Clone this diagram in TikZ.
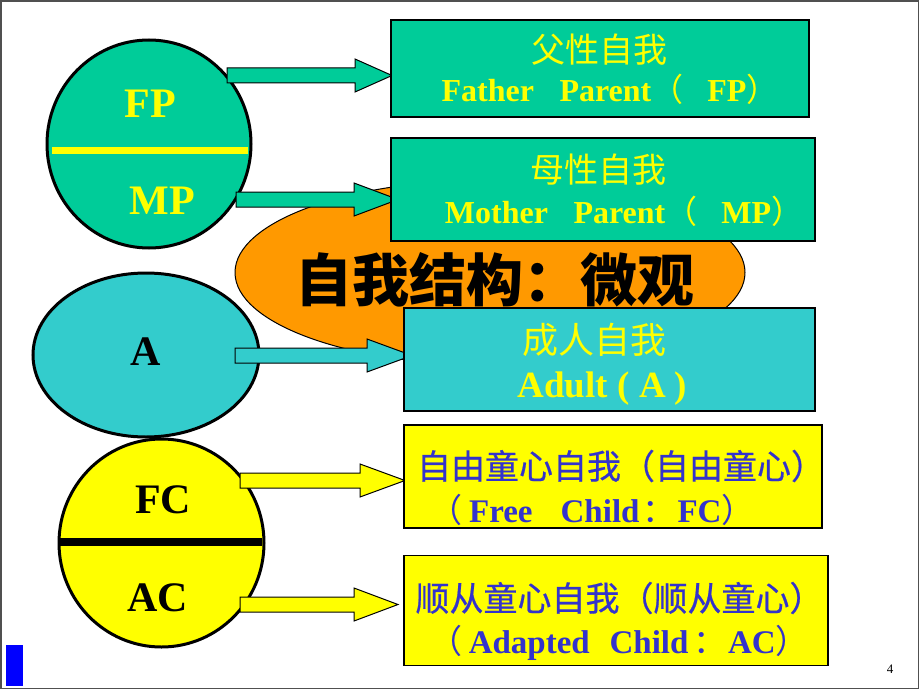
\documentclass[tikz,border=0pt]{standalone}
\usepackage{fontspec}
\setmainfont{Liberation Serif}
\newfontfamily\cjk{Noto Sans CJK SC}
\newfontfamily\cjkm[FakeBold=0.6]{Noto Sans CJK SC}
\usetikzlibrary{shapes.geometric}
\definecolor{pgreen}{HTML}{00CC99}
\definecolor{pcyan}{HTML}{33CCCC}
\definecolor{pyellow}{HTML}{FFFF00}
\definecolor{porange}{HTML}{FF9900}
\definecolor{pblue}{HTML}{3333CC}
\definecolor{pframe}{HTML}{505050}
\newcommand\fsz[1]{\fontsize{#1}{#1}\selectfont}
\newcommand\zp[1]{{\cjk\mdseries #1}}
\newcommand\blockarrow[5]{%
  \draw[arrowshape, fill=#5] (#1,#4-7.5) -- (#3,#4-7.5) -- (#3,#4-16.5) -- (#2,#4)
     -- (#3,#4+16.5) -- (#3,#4+7.5) -- (#1,#4+7.5) -- cycle;}
\tikzset{
  egocirc/.style={ellipse, draw=black, line width=3pt, inner sep=0pt},
  egobox/.style={rectangle, draw=black, line width=1.2pt, inner sep=0pt},
  arrowshape/.style={draw=black, line width=1pt, line join=miter},
  circtext/.style={font=\fsz{42}\bfseries, inner sep=0pt},
  zhline/.style={font=\cjk\fsz{34}, inner sep=0pt},
  zhblue/.style={font=\cjkm\fsz{34}, inner sep=0pt, text=pblue},
  enline/.style={font=\fsz{32}\bfseries, inner sep=0pt, anchor=base},
  enblue/.style={font=\fsz{33}\bfseries, inner sep=0pt, anchor=base, text=pblue},
}
\begin{document}
\begin{tikzpicture}[x=1pt, y=-1pt]
\useasboundingbox (0,0) rectangle (920,690);
\fill[white] (0,0) rectangle (920,690);
\draw[pframe, line width=1.6pt] (0.8,0.8) rectangle (918.6,688.4);

% central ellipse and title
\node[ellipse, draw=black, line width=1pt, fill=porange, minimum width=510, minimum height=185, inner sep=0pt] (core) at (490,272.5) {};
\node[font=\cjk\bfseries\fsz{57}, inner sep=0pt] (title) at (495,280) {自我结构：微观};

% circles
\node[egocirc, fill=pgreen, minimum width=204, minimum height=208] (P) at (149,144) {};
\draw[pyellow, line width=7pt] (52,150.5) -- (248,150.5);
\node[egocirc, fill=pcyan, minimum width=226, minimum height=164] (Acirc) at (146,355) {};
\node[egocirc, fill=pyellow, minimum width=205, minimum height=208] (C) at (161.5,543) {};
\draw[black, line width=8pt] (60,542) -- (262,542);

\node[circtext, text=pyellow] (fp) at (150,103.5) {FP};
\node[circtext, text=pyellow] (mp) at (162,201) {MP};
\node[circtext, text=black] (a) at (146,352) {A};
\node[circtext, text=black] (fc) at (163,500) {FC};
\node[circtext, text=black] (ac) at (158,598) {AC};

% block arrows
\blockarrow{227}{392}{355}{75.5}{pgreen}
\blockarrow{236}{398}{354}{199.5}{pgreen}
\blockarrow{235}{412}{367}{355.5}{pcyan}
\blockarrow{240}{405}{360}{480.5}{pyellow}
\blockarrow{240}{398}{354}{604.5}{pyellow}

% boxes
\node[egobox, fill=pgreen, minimum width=418, minimum height=97] (fpbox) at (600,68.5) {};
\node[egobox, fill=pgreen, minimum width=424, minimum height=103] (mpbox) at (603,189.5) {};
\node[egobox, fill=pcyan, minimum width=411, minimum height=103] (abox) at (609.5,359.5) {};
\node[egobox, fill=pyellow, minimum width=418, minimum height=103] (fcbox) at (613,476.5) {};
\node[egobox, fill=pyellow, minimum width=424, minimum height=110] (acbox) at (616,610.5) {};

% box texts
\node[zhline, text=pyellow] (fp1) at (599,50) {父性自我};
\node[enline, text=pyellow] (fp2) at (610,102) {Father\hspace{0.8em}Parent\zp{（}\hspace{0.75em}FP\zp{）}};
\node[zhline, text=pyellow] (mp1) at (598,170) {母性自我};
\node[enline, text=pyellow] (mp2) at (624,223) {Mother\hspace{0.8em}Parent\zp{（}\hspace{0.75em}MP\zp{）}};
\node[zhline, text=pyellow, font=\cjk\fsz{36}] (a1) at (594,340) {成人自我};
\node[enline, text=pyellow, font=\fsz{37}\bfseries] (a2) at (602.5,397) {Adult ( A )};
\node[zhblue] (fc1) at (621,466) {自由童心自我（自由童心）};
\node[enblue] (fc2) at (592,522) {\zp{（}\hspace{0.2em}Free\hspace{0.85em}Child\hspace{0.1em}\zp{：}\hspace{0.05em}FC\zp{）}};
\node[zhblue] (ac1) at (619.5,598) {顺从童心自我（顺从童心）};
\node[enblue] (ac2) at (619,653) {\zp{（}\hspace{0.2em}Adapted\hspace{0.6em}Child\hspace{0.15em}\zp{：}\hspace{0.05em}AC\zp{）}};

% page mark
\fill[blue] (6,645) rectangle (23,686);
\node[font=\fsz{13}, inner sep=0pt] (pg) at (890,669.5) {4};
\end{tikzpicture}
\end{document}
